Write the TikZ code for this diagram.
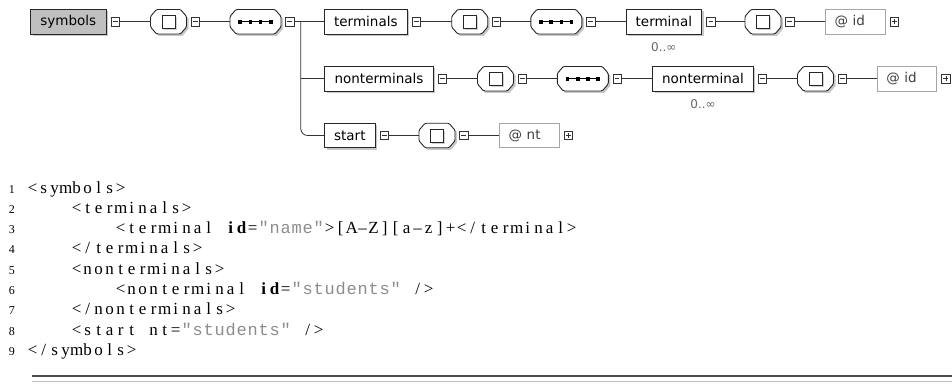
\documentclass[tikz,border=0pt]{standalone}
\usepackage{fontspec}
\setmainfont{Liberation Serif}
\setmonofont{Liberation Mono}
\newfontfamily\dvsans{DejaVu Sans}
\usetikzlibrary{shadows,positioning,calc}
\definecolor{strgray}{HTML}{8C8C8C}
\definecolor{rootgray}{HTML}{C0C0C0}
\newlength\cw \setlength\cw{11pt}
\def\fxend{\fxend}
\def\fx#1{\fxloop#1\fxend}
\def\fxloop#1{\ifx#1\fxend\else\makebox[\cw]{#1}\expandafter\fxloop\fi}
% octagon outline around a named node: #1 name, #2 half width, #3 dx, #4 dy
\newcommand\octoutline[4]{($(#1)+(#3,#4)$) ++(-#2+6,-12.25) -- ++(2*#2-12,0) -- ++(6,7) -- ++(0,10.5) -- ++(-6,7) -- ++(-2*#2+12,0) -- ++(-6,-7) -- ++(0,-10.5) -- cycle}
\newcommand\octsq[1]{%
  \fill[black!22] \octoutline{#1}{18}{2}{2};
  \draw[octline] \octoutline{#1}{18}{0}{0};
  \fill[black!18] ($(#1)+(-5,-5)$) rectangle ++(13,13);
  \draw[line width=0.8pt, draw=black!85, fill=white] ($(#1)+(-6.5,-6.5)$) rectangle ++(13,13);}
\newcommand\octseq[1]{%
  \fill[black!22] \octoutline{#1}{25.5}{2}{2};
  \draw[octline] \octoutline{#1}{25.5}{0}{0};
  \draw[line width=0.8pt] ($(#1)+(-15,0)$) -- ($(#1)+(15,0)$);
  \foreach \d in {-15.3,-5.1,5.1,15.3} {\fill ($(#1)+(\d-1.8,-1.8)$) rectangle ++(3.6,3.6);}}
\begin{document}
\begin{tikzpicture}[x=1pt,y=-1pt,
 shad/.style={drop shadow={shadow xshift=2pt, shadow yshift=-2pt, fill=black!22, opacity=1}},
 elem/.style={draw=black!85, line width=0.9pt, fill=white, minimum height=24.5pt, inner sep=0pt, font=\dvsans\fontsize{13.5}{16}\selectfont, shad},
 root/.style={elem, fill=rootgray},
 attr/.style={draw=black!35, line width=0.9pt, fill=white, minimum height=24.5pt, inner xsep=9pt, inner ysep=0pt, text width=41.3pt, align=left, font=\dvsans\fontsize{13.5}{16}\selectfont, text=black!75},
 octline/.style={draw=black!85, line width=0.9pt, fill=white, rounded corners=1.2pt},
 octnode/.style={draw=none, inner sep=0pt, outer sep=0pt, minimum height=24.5pt},
 octa/.style={octnode, minimum width=36pt},
 octb/.style={octnode, minimum width=51pt},
 tog/.style={draw=black!80, line width=0.6pt, fill=white, minimum size=8.5pt, inner sep=0pt},
 minus/.style={tog, path picture={\draw[line width=0.7pt] ([xshift=-2.4pt]path picture bounding box.center) -- ([xshift=2.4pt]path picture bounding box.center);}},
 plus/.style={tog, path picture={\draw[line width=0.7pt] ([xshift=-2.4pt]path picture bounding box.center) -- ([xshift=2.4pt]path picture bounding box.center) ([yshift=-2.4pt]path picture bounding box.center) -- ([yshift=2.4pt]path picture bounding box.center);}},
 mult/.style={font=\dvsans\fontsize{12}{14}\selectfont, text=black!60, inner sep=0pt, anchor=north},
 conn/.style={draw=black!80, line width=0.8pt},
 codeline/.style={anchor=base west, inner sep=0pt, font=\fontsize{17}{20}\selectfont},
 lnum/.style={anchor=base east, inner sep=0pt, font=\fontsize{12}{14}\selectfont},
 rulea/.style={draw=black!70, line width=1.3pt},
 ruleb/.style={draw=black!25, line width=0.8pt}
]
\useasboundingbox (0,0) rectangle (952,383);
% row 1
\node[root, minimum width=75.3pt] (symbols) at (68.35,21.7) {symbols};
\node[minus, right=4.2pt of symbols] (t1) {};
\node[octa] (c1) at (168.5,21.7) {}; \octsq{c1}
\node[minus, right=4.2pt of c1] (t2) {};
\node[octb] (s1) at (255.5,21.7) {}; \octseq{s1}
\node[minus, right=4.2pt of s1] (t3) {};
\node[elem, minimum width=82.3pt] (terminals) at (365.85,21.7) {terminals};
\node[minus, right=4.2pt of terminals] (t4) {};
\node[octa] (c2) at (469.7,21.7) {}; \octsq{c2}
\node[minus, right=4.2pt of c2] (t5) {};
\node[octb] (s2) at (556.35,21.7) {}; \octseq{s2}
\node[minus, right=4.2pt of s2] (t6) {};
\node[elem, minimum width=75.7pt] (terminal) at (663.85,21.7) {terminal};
\node[mult] (m1) at ($(terminal.south)+(0,8)$) {0..∞};
\node[minus, right=4.2pt of terminal] (t7) {};
\node[octa] (c3) at (763,21.7) {}; \octsq{c3}
\node[minus, right=4.2pt of c3] (t8) {};
\node[attr] (a1) at (855.35,21.7) {@ id};
\node[plus, right=4.2pt of a1] (p1) {};
% row 2
\node[elem, minimum width=108.6pt] (nonterminals) at (379,78.7) {nonterminals};
\node[minus, right=4.2pt of nonterminals] (t9) {};
\node[octa] (c4) at (495.5,78.7) {}; \octsq{c4}
\node[minus, right=4.2pt of c4] (t10) {};
\node[octb] (s3) at (582.8,78.7) {}; \octseq{s3}
\node[minus, right=4.2pt of s3] (t11) {};
\node[elem, minimum width=100.6pt] (nonterminal) at (703,78.7) {nonterminal};
\node[mult] (m2) at ($(nonterminal.south)+(0,8)$) {0..∞};
\node[minus, right=4.2pt of nonterminal] (t12) {};
\node[octa] (c5) at (815.5,78.7) {}; \octsq{c5}
\node[minus, right=4.2pt of c5] (t13) {};
\node[attr] (a2) at (907,78.7) {@ id};
\node[plus, right=4.2pt of a2] (p2) {};
% row 3
\node[elem, minimum width=50.3pt] (start) at (349.85,135.5) {start};
\node[minus, right=4.2pt of start] (t14) {};
\node[octa] (c6) at (437,135.5) {}; \octsq{c6}
\node[minus, right=4.2pt of c6] (t15) {};
\node[attr] (a3) at (529.35,135.5) {@ nt};
\node[plus, right=4.2pt of a3] (p3) {};
% connectors
\coordinate (br) at (300.7,21.7);
\draw[conn] (t1.east) -- (c1.west);
\draw[conn] (t2.east) -- (s1.west);
\draw[conn] (t3.east) -- (br) -- (terminals.west);
\draw[conn] (br |- nonterminals.west) -- (nonterminals.west);
\draw[conn, rounded corners=7pt] (br) |- (start.west);
\draw[conn] (t4.east) -- (c2.west);
\draw[conn] (t5.east) -- (s2.west);
\draw[conn] (t6.east) -- (terminal.west);
\draw[conn] (t7.east) -- (c3.west);
\draw[conn] (t8.east) -- (a1.west);
\draw[conn] (t9.east) -- (c4.west);
\draw[conn] (t10.east) -- (s3.west);
\draw[conn] (t11.east) -- (nonterminal.west);
\draw[conn] (t12.east) -- (c5.west);
\draw[conn] (t13.east) -- (a2.west);
\draw[conn] (t14.east) -- (c6.west);
\draw[conn] (t15.east) -- (a3.west);
% code listing
\foreach \i in {1,...,9} {\node[lnum] (n\i) at (15,{193+(\i-1)*20.3}) {\i};}
\node[codeline] (l1) at (27,193) {\fx{<symbols>}};
\node[codeline] (l2) at (27,213.3) {\fx{~~~~<terminals>}};
\node[codeline] (l3) at (27,233.6) {\fx{~~~~~~~~<terminal~}{\bfseries\fx{id}}\fx{=}{\ttfamily\color{strgray}\fx{"name"}}\fx{>[A\textendash Z][a\textendash z]+</terminal>}};
\node[codeline] (l4) at (27,253.9) {\fx{~~~~</terminals>}};
\node[codeline] (l5) at (27,274.2) {\fx{~~~~<nonterminals>}};
\node[codeline] (l6) at (27,294.5) {\fx{~~~~~~~~<nonterminal~}{\bfseries\fx{id}}\fx{=}{\ttfamily\color{strgray}\fx{"students"}}\fx{~/>}};
\node[codeline] (l7) at (27,314.8) {\fx{~~~~</nonterminals>}};
\node[codeline] (l8) at (27,335.1) {\fx{~~~~<start~nt=}{\ttfamily\color{strgray}\fx{"students"}}\fx{~/>}};
\node[codeline] (l9) at (27,355.4) {\fx{</symbols>}};
\coordinate (ra) at (32,376);
\coordinate (rb) at (952,376);
\draw[rulea] (ra) -- (rb);
\draw[ruleb] ([yshift=-5pt]ra) -- ([yshift=-5pt]rb);
\end{tikzpicture}
\end{document}
